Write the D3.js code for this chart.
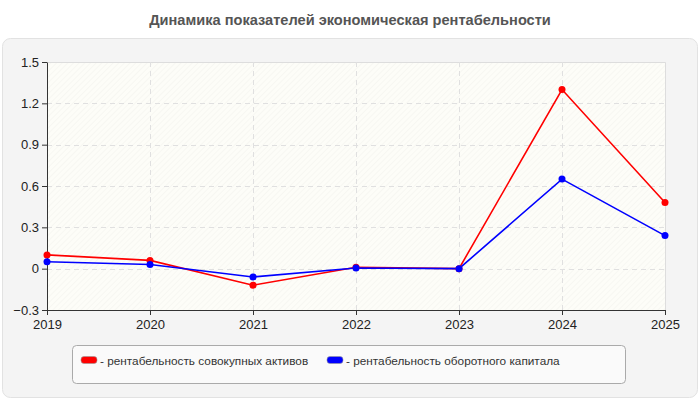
<!DOCTYPE html>
<html><head><meta charset="utf-8">
<script src="https://cdn.jsdelivr.net/npm/d3@7"></script>
<style>body{margin:0;background:#fff;font-family:Arial,"Liberation Sans",sans-serif}</style>
</head><body><svg id="c" width="700" height="400"></svg>
<script>
const years = ["2019","2020","2021","2022","2023","2024","2025"];
const assets = [0.10, 0.06, -0.12, 0.01, 0.0, 1.30, 0.48];
const capital = [0.05, 0.03, -0.06, 0.005, 0.0, 0.65, 0.24];
const yTicks = [-0.3, 0, 0.3, 0.6, 0.9, 1.2, 1.5];
const seriesNames = ["рентабельность совокупных активов", "рентабельность оборотного капитала"];
const seriesColors = ["#ff0000", "#0000ff"];
const title = "Динамика показателей экономическая рентабельности";

const svg = d3.select("#c");
const defs = svg.append("defs");
const pat = defs.append("pattern").attr("id","hatch").attr("patternUnits","userSpaceOnUse")
  .attr("width",4).attr("height",4).attr("patternTransform","rotate(45)");
pat.append("rect").attr("width",4).attr("height",4).attr("fill","#fdfdf8");
pat.append("line").attr("x1",0).attr("y1",0).attr("x2",0).attr("y2",4).attr("stroke","#f1f1ed").attr("stroke-width",1);

svg.append("text").attr("x",350).attr("y",25).attr("text-anchor","middle")
  .attr("font-size",14.6).attr("font-weight","bold").attr("fill","#555").text(title);

svg.append("rect").attr("x",2.5).attr("y",38.5).attr("width",695).attr("height",359).attr("rx",8)
  .attr("fill","#f4f4f4").attr("stroke","#e2e2e2");

const L=47, R=665, T=62, B=310;
const x = d3.scalePoint().domain(years).range([L,R]);
const y = d3.scaleLinear().domain([-0.3,1.5]).range([B,T]);

svg.append("rect").attr("x",L).attr("y",T).attr("width",R-L).attr("height",B-T).attr("fill","url(#hatch)");
svg.append("path").attr("d",`M${L},${T+0.5}H${R+0.5}V${B}`).attr("fill","none").attr("stroke","#dddddd");

const g = svg.append("g");
yTicks.forEach(t=>{ if(t!==-0.3 && t!==1.5) g.append("line").attr("x1",L).attr("x2",R).attr("y1",Math.round(y(t))+0.5).attr("y2",Math.round(y(t))+0.5)
  .attr("stroke","#e0e0e0").attr("stroke-dasharray","5,4");});
years.forEach((yr,i)=>{ if(i>0 && i<years.length-1) g.append("line").attr("y1",T).attr("y2",B).attr("x1",Math.round(x(yr))+0.5).attr("x2",Math.round(x(yr))+0.5)
  .attr("stroke","#e0e0e0").attr("stroke-dasharray","5,4");});

const fmt = d=> d===0?"0":d3.format(".1f")(d);
const ya = svg.append("g").attr("transform",`translate(${L},0)`)
  .call(d3.axisLeft(y).tickValues(yTicks).tickFormat(fmt).tickSize(5).tickSizeOuter(0));
const xa = svg.append("g").attr("transform",`translate(0,${B})`)
  .call(d3.axisBottom(x).tickSize(5).tickSizeOuter(0));
[ya,xa].forEach(a=>{a.selectAll("path,line").attr("stroke","#333");
  a.selectAll("text").attr("font-size",13).attr("fill","#222").attr("font-family","Arial,'Liberation Sans',sans-serif");});
xa.selectAll("text").attr("dy","0.85em");

const line = d3.line().x((d,i)=>x(years[i])).y(d=>y(d));
[assets, capital].forEach((s,k)=>{
  svg.append("path").datum(s).attr("d",line).attr("fill","none").attr("stroke",seriesColors[k]).attr("stroke-width",1.6);
});
[assets, capital].forEach((s,k)=>{
  svg.selectAll(null).data(s).enter().append("circle").attr("cx",(d,i)=>x(years[i])).attr("cy",d=>y(d))
    .attr("r",3.5).attr("fill",seriesColors[k]);
});

svg.append("rect").attr("x",72.5).attr("y",345.5).attr("width",553).attr("height",38).attr("rx",4)
  .attr("fill","#fafafa").attr("stroke","#aaaaaa");
const lx=[81,327];
seriesNames.forEach((n,k)=>{
  svg.append("rect").attr("x",lx[k]).attr("y",356.5).attr("width",16).attr("height",7).attr("rx",3)
    .attr("fill",seriesColors[k]).attr("stroke","#999").attr("stroke-width",0.6);
  svg.append("text").attr("x",lx[k]+19).attr("y",364.5).attr("font-size",11.8).attr("fill","#333").text("- "+n);
});
</script></body></html>
